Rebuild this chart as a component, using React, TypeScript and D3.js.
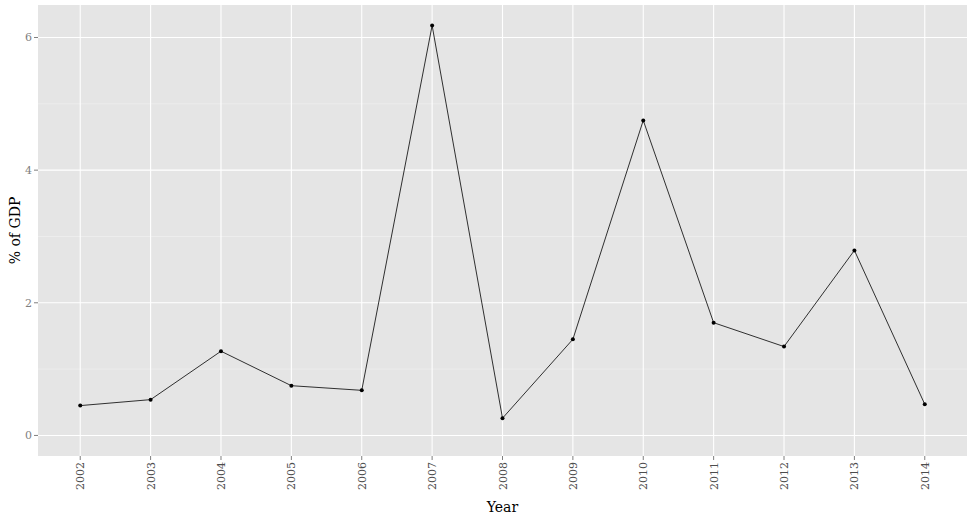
import { useEffect, useRef } from "react";
import * as d3 from "d3";

const years = ["2002","2003","2004","2005","2006","2007","2008","2009","2010","2011","2012","2013","2014"];
const values = [0.45, 0.54, 1.27, 0.75, 0.68, 6.18, 0.26, 1.45, 4.75, 1.70, 1.34, 2.79, 0.47];
const yTicks = [0, 2, 4, 6];
const yMinor = [1, 3, 5];

export default function App() {
  const ref = useRef<SVGSVGElement>(null);

  useEffect(() => {
    const svg = d3.select(ref.current);
    svg.selectAll("*").remove();
    const W = 968, H = 515;
    const left = 38, right = 967, top = 5, bottom = 456;
    const font = "DejaVu Serif, serif";

    const x = d3.scalePoint<string>().domain(years).range([left, right]).padding(0.6);
    const y = d3.scaleLinear().domain([-0.31, 6.49]).range([bottom, top]);

    svg.append("rect").attr("x", left).attr("y", top).attr("width", right - left).attr("height", bottom - top).attr("fill", "#e5e5e5");

    svg.selectAll(".minor").data(yMinor).join("line")
      .attr("x1", left).attr("x2", right).attr("y1", d => y(d)).attr("y2", d => y(d))
      .attr("stroke", "#f2f2f2").attr("stroke-width", 0.6);
    svg.selectAll(".majory").data(yTicks).join("line")
      .attr("x1", left).attr("x2", right).attr("y1", d => y(d)).attr("y2", d => y(d))
      .attr("stroke", "#ffffff").attr("stroke-width", 1.1);
    svg.selectAll(".majorx").data(years).join("line")
      .attr("y1", top).attr("y2", bottom).attr("x1", d => x(d)!).attr("x2", d => x(d)!)
      .attr("stroke", "#ffffff").attr("stroke-width", 1.1);

    const line = d3.line<number>().x((_, i) => x(years[i])!).y(d => y(d));
    svg.append("path").datum(values).attr("d", line).attr("fill", "none").attr("stroke", "#000").attr("stroke-width", 0.8);
    svg.selectAll(".pt").data(values).join("circle")
      .attr("cx", (_, i) => x(years[i])!).attr("cy", d => y(d)).attr("r", 2).attr("fill", "#000");

    // y axis
    svg.selectAll(".yt").data(yTicks).join("line")
      .attr("x1", left - 4).attr("x2", left).attr("y1", d => y(d)).attr("y2", d => y(d))
      .attr("stroke", "#7f7f7f");
    svg.selectAll(".yl").data(yTicks).join("text")
      .attr("x", left - 6).attr("y", d => y(d)).attr("dy", "0.35em").attr("text-anchor", "end")
      .attr("font-family", font).attr("font-size", 11).attr("fill", "#7f7f7f").text(d => d);

    // x axis
    svg.selectAll(".xt").data(years).join("line")
      .attr("x1", d => x(d)!).attr("x2", d => x(d)!).attr("y1", bottom).attr("y2", bottom + 4)
      .attr("stroke", "#7f7f7f");
    svg.selectAll(".xl").data(years).join("text")
      .attr("transform", d => `translate(${x(d)! + 4},${bottom + 6}) rotate(-90)`)
      .attr("text-anchor", "end")
      .attr("font-family", font).attr("font-size", 11).attr("fill", "#4d4d4d").text(d => d);

    svg.append("text").attr("x", (left + right) / 2).attr("y", 512).attr("text-anchor", "middle")
      .attr("font-family", font).attr("font-size", 14).attr("fill", "#000").text("Year");
    svg.append("text").attr("transform", `translate(20,${(top + bottom) / 2}) rotate(-90)`).attr("text-anchor", "middle")
      .attr("font-family", font).attr("font-size", 14).attr("fill", "#000").text("% of GDP");

    svg.attr("width", W).attr("height", H);
  }, []);

  return <svg ref={ref} width={968} height={515} style={{ position: "absolute", left: 0, top: 0, background: "#fff" }} />;
}
